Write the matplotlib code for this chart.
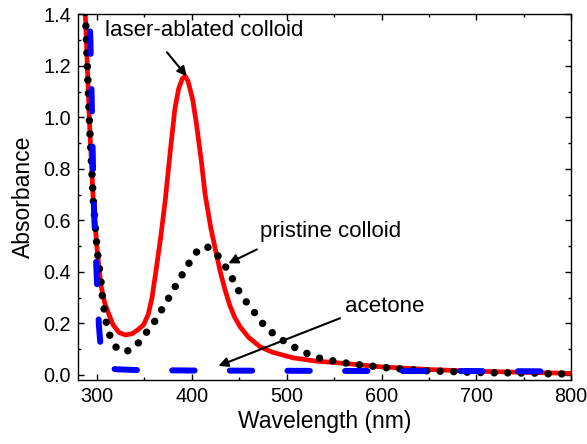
import matplotlib
matplotlib.use("Agg")
import matplotlib.pyplot as plt
from matplotlib.ticker import MultipleLocator

plt.rcParams['font.family'] = ['Liberation Sans', 'DejaVu Sans']

# laser-ablated colloid (red solid)
laser_x = [285, 288, 292, 296, 300, 304, 308, 312, 317, 323, 330, 337, 343, 349, 354, 358,
           362, 367, 372, 377, 382, 386, 390, 393, 396, 401, 405, 410, 414, 420, 425, 430,
           435, 440, 445, 451, 460, 472, 485, 507, 530, 560, 600, 650, 700, 750, 800]
laser_y = [1.55, 1.37, 0.98, 0.68, 0.49, 0.35, 0.28, 0.24, 0.194, 0.165, 0.155, 0.160, 0.175,
           0.194, 0.235, 0.30, 0.40, 0.53, 0.68, 0.86, 1.03, 1.11, 1.15, 1.159, 1.14, 1.066,
           0.97, 0.83, 0.70, 0.57, 0.484, 0.40, 0.33, 0.27, 0.225, 0.186, 0.145, 0.109, 0.088,
           0.066, 0.054, 0.045, 0.031, 0.021, 0.014, 0.010, 0.006]

# pristine colloid (black dotted)
pristine_x = [285, 288, 292, 296, 300, 304, 306, 308.5, 311, 315.5, 320, 326, 333, 340, 350,
              360, 368, 376, 384, 392, 400, 406, 411, 416, 420, 424, 429, 434, 442, 449, 458,
              468, 478, 491, 504, 518, 531, 545, 559, 572, 586, 600, 613, 627, 640, 654, 668,
              681, 695, 708, 722, 736, 750, 763, 777, 790, 800]
pristine_y = [1.60, 1.38, 0.98, 0.68, 0.49, 0.37, 0.29, 0.23, 0.18, 0.133, 0.108, 0.090, 0.094,
              0.107, 0.155, 0.203, 0.252, 0.301, 0.353, 0.403, 0.452, 0.482, 0.497, 0.497, 0.490,
              0.478, 0.455, 0.429, 0.379, 0.329, 0.280, 0.233, 0.183, 0.146, 0.115, 0.089, 0.068,
              0.057, 0.048, 0.041, 0.036, 0.030, 0.025, 0.022, 0.017, 0.015, 0.014, 0.012, 0.010,
              0.009, 0.008, 0.008, 0.007, 0.007, 0.004, 0.004, 0.004]

# acetone (blue dashed)
acetone_x = [291.5, 293, 294.5, 295.5, 297, 299.5, 302, 304, 307, 312, 320, 340, 400, 500,
             600, 700, 770]
acetone_y = [1.45, 1.30, 1.05, 0.85, 0.62, 0.40, 0.19, 0.10, 0.04, 0.026, 0.022, 0.019, 0.017,
             0.016, 0.015, 0.015, 0.014]

fig = plt.figure(figsize=(5.87, 4.44), dpi=100)
ax = fig.add_axes([0.133, 0.144, 0.84, 0.824])

ax.plot(laser_x, laser_y, color='#ff0000', lw=3.4, solid_capstyle='round', zorder=2)
ax.plot(pristine_x, pristine_y, color='black', lw=5.4, linestyle=(0, (0.001, 1.8)),
        dash_capstyle='round', zorder=3)
ax.plot(acetone_x, acetone_y, color='#0000ff', lw=4.3, linestyle=(4.6, (3.75, 5.9)),
        dash_capstyle='round', zorder=4)

ax.set_xlim(280, 800)
ax.set_ylim(-0.02, 1.4)
ax.xaxis.set_major_locator(MultipleLocator(100))
ax.xaxis.set_minor_locator(MultipleLocator(50))
ax.yaxis.set_major_locator(MultipleLocator(0.2))
ax.yaxis.set_minor_locator(MultipleLocator(0.1))
ax.yaxis.set_major_formatter(matplotlib.ticker.FormatStrFormatter('%.1f'))
ax.tick_params(which='both', direction='in', top=True, right=True, labelsize=14.3, width=1.0)
ax.tick_params(which='major', length=4.5, pad=5)
ax.tick_params(which='minor', length=2.5)
for s in ax.spines.values():
    s.set_linewidth(1.0)

ax.set_xlabel('Wavelength (nm)', fontsize=16.5, labelpad=3)
ax.set_ylabel('Absorbance', fontsize=16.5, labelpad=6)

arrow = dict(arrowstyle='-|>', color='black', lw=1.5, mutation_scale=14, shrinkA=0, shrinkB=0)
ax.text(308.5, 1.337, 'laser-ablated colloid', fontsize=16, va='center', ha='left')
ax.annotate('', xy=(394.6, 1.159), xytext=(373.8, 1.252), arrowprops=arrow)
ax.text(472, 0.556, 'pristine colloid', fontsize=16, va='center', ha='left')
ax.annotate('', xy=(438.5, 0.433), xytext=(468.5, 0.487), arrowprops=arrow)
ax.text(561, 0.267, 'acetone', fontsize=16, va='center', ha='left')
ax.annotate('', xy=(428, 0.035), xytext=(556.3, 0.22), arrowprops=arrow)

fig.savefig('out.png', dpi=100)
